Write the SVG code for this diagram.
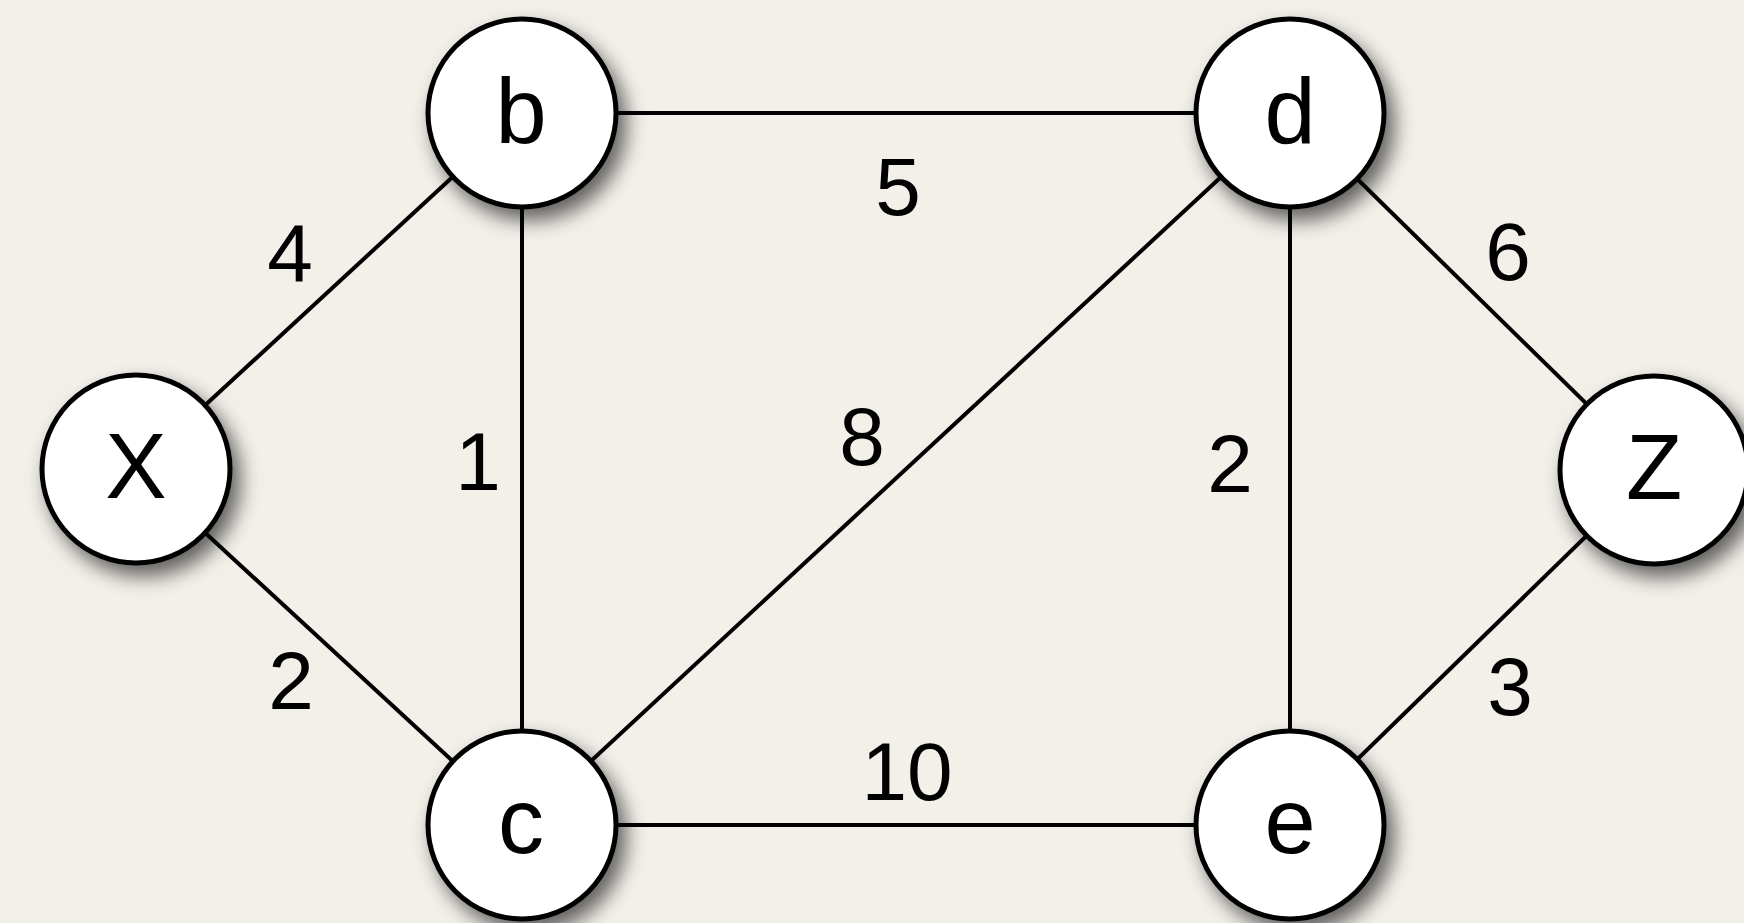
<svg xmlns="http://www.w3.org/2000/svg" width="1744" height="923" viewBox="0 0 1744 923">
<defs>
<filter id="sh" x="-40%" y="-40%" width="180%" height="180%">
<feDropShadow dx="8" dy="11" stdDeviation="10" flood-color="#000" flood-opacity="0.6"/>
</filter>
<style>
.edge{stroke:#000;stroke-width:4;fill:none}
.node circle{fill:#fff;stroke:#000;stroke-width:5;filter:url(#sh)}
.node text{font-family:"Liberation Sans",Arial,sans-serif;font-size:92px;text-anchor:middle;fill:#000}
.lbl{font-family:"Liberation Sans",Arial,sans-serif;font-size:82px;text-anchor:middle;fill:#000}
</style>
</defs>
<rect width="1744" height="923" fill="#f3f0ea"/>
<g id="connectors">
<line class="edge" x1="136" y1="469" x2="522" y2="113"/>
<line class="edge" x1="136" y1="469" x2="522" y2="825"/>
<line class="edge" x1="522" y1="113" x2="1290" y2="113"/>
<line class="edge" x1="522" y1="113" x2="522" y2="825"/>
<line class="edge" x1="522" y1="825" x2="1290" y2="113"/>
<line class="edge" x1="522" y1="825" x2="1290" y2="825"/>
<line class="edge" x1="1290" y1="113" x2="1290" y2="825"/>
<line class="edge" x1="1290" y1="113" x2="1654" y2="470"/>
<line class="edge" x1="1290" y1="825" x2="1654" y2="470"/>
</g>
<g id="edge-labels">
<text class="lbl" x="290" y="282">4</text>
<text class="lbl" x="291" y="709">2</text>
<text class="lbl" x="898" y="215">5</text>
<text class="lbl" x="478" y="490">1</text>
<text class="lbl" x="862" y="465">8</text>
<text class="lbl" x="1230" y="492">2</text>
<text class="lbl" x="907" y="800">10</text>
<text class="lbl" x="1508" y="280">6</text>
<text class="lbl" x="1510" y="715">3</text>
</g>
<g id="node-X" class="node"><circle cx="136" cy="469" r="94"/><text x="136" y="498">X</text></g>
<g id="node-b" class="node"><circle cx="522" cy="113" r="94"/><text x="521" y="143">b</text></g>
<g id="node-d" class="node"><circle cx="1290" cy="113" r="94"/><text x="1290" y="143">d</text></g>
<g id="node-c" class="node"><circle cx="522" cy="825" r="94"/><text x="521" y="853">c</text></g>
<g id="node-e" class="node"><circle cx="1290" cy="825" r="94"/><text x="1290" y="853">e</text></g>
<g id="node-Z" class="node"><circle cx="1654" cy="470" r="94"/><text x="1654" y="499">Z</text></g>
</svg>
